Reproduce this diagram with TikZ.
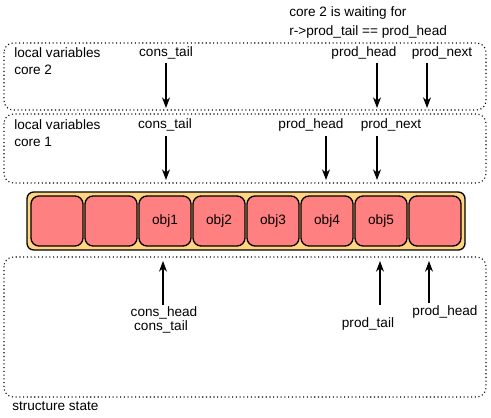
\documentclass[tikz,border=0pt]{standalone}
\usepackage{fontspec}
\setmainfont{Liberation Sans}
\usetikzlibrary{arrows.meta}
\definecolor{slotred}{HTML}{FF8080}
\definecolor{ringtan}{HTML}{FFD580}
\tikzset{
  varbox/.style={draw, dotted, line width=0.8pt, rounded corners=7pt},
  slotcell/.style={draw, fill=slotred, line width=1pt, rounded corners=6pt},
  lbl/.style={inner sep=0.75pt, font=\fontsize{10.2}{12.75}\selectfont},
  ptr/.style={line width=0.8pt, -{Stealth[length=8pt,width=6pt,inset=2.5pt]}}
}
\begin{document}
\begin{tikzpicture}[x=0.75pt,y=0.75pt,yscale=-1,xscale=1]
\useasboundingbox (0,0) rectangle (491,417);
%Note above
\node (waitA) [lbl, anchor=west] at (288,13) {core 2 is waiting for};
\node (waitB) [lbl, anchor=west] at (288,32) {r->prod\_tail == prod\_head};
%Rounded Rect core 2
\draw [varbox] (4,43) rectangle (486,110);
%Rounded Rect core 1
\draw [varbox] (4,114) rectangle (486,183);
%Rounded Rect structure state
\draw [varbox] (4,257) rectangle (486,397);
%Ring
\draw [line width=1pt, fill=ringtan, rounded corners=5pt] (27,192) rectangle (465,250);
\foreach \i in {0,...,7}
  \draw [slotcell] (31+54*\i,196) rectangle (83+54*\i,246);
\foreach \i/\t in {2/obj1,3/obj2,4/obj3,5/obj4,6/obj5}
  \node (cell\i) [lbl] at (57+54*\i,221) {\t};
% Text Node core 2
\node (c2title) [lbl, anchor=west] at (13,53) {local variables};
\node (c2sub) [lbl, anchor=west] at (13,70) {core 2};
\node (c2cons) [lbl] at (166,53) {cons\_tail};
\node (c2head) [lbl] at (364,53) {prod\_head};
\node (c2next) [lbl] at (442,53) {prod\_next};
% Text Node core 1
\node (c1title) [lbl, anchor=west] at (13,125) {local variables};
\node (c1sub) [lbl, anchor=west] at (13,142) {core 1};
\node (c1cons) [lbl] at (165,125) {cons\_tail};
\node (c1head) [lbl] at (311,125) {prod\_head};
\node (c1next) [lbl] at (391,125) {prod\_next};
% Text Node structure state
\node (sconsA) [lbl] at (164,313) {cons\_head};
\node (sconsB) [lbl] at (161,327) {cons\_tail};
\node (stail) [lbl] at (368,324) {prod\_tail};
\node (shead) [lbl] at (445,312) {prod\_head};
\node (stitle) [lbl, anchor=west] at (11,406) {structure state};
%Arrow ends
\coordinate (c2consS) at (166,63);   \coordinate (c2consE) at (166,108);
\coordinate (c2headS) at (377,63);   \coordinate (c2headE) at (377,108);
\coordinate (c2nextS) at (427,63);   \coordinate (c2nextE) at (427,108);
\coordinate (c1consS) at (166,136);  \coordinate (c1consE) at (166,180);
\coordinate (c1headS) at (326,136);  \coordinate (c1headE) at (326,180);
\coordinate (c1nextS) at (377,136);  \coordinate (c1nextE) at (377,180);
\coordinate (sconsS) at (163,305);   \coordinate (sconsE) at (163,261);
\coordinate (stailS) at (380,305);   \coordinate (stailE) at (380,261);
\coordinate (sheadS) at (429,303);   \coordinate (sheadE) at (429,261);
%Straight Lines
\draw [ptr] (c2consS) -- (c2consE);
\draw [ptr] (c2headS) -- (c2headE);
\draw [ptr] (c2nextS) -- (c2nextE);
\draw [ptr] (c1consS) -- (c1consE);
\draw [ptr] (c1headS) -- (c1headE);
\draw [ptr] (c1nextS) -- (c1nextE);
\draw [ptr] (sconsS) -- (sconsE);
\draw [ptr] (stailS) -- (stailE);
\draw [ptr] (sheadS) -- (sheadE);
\end{tikzpicture}
\end{document}
